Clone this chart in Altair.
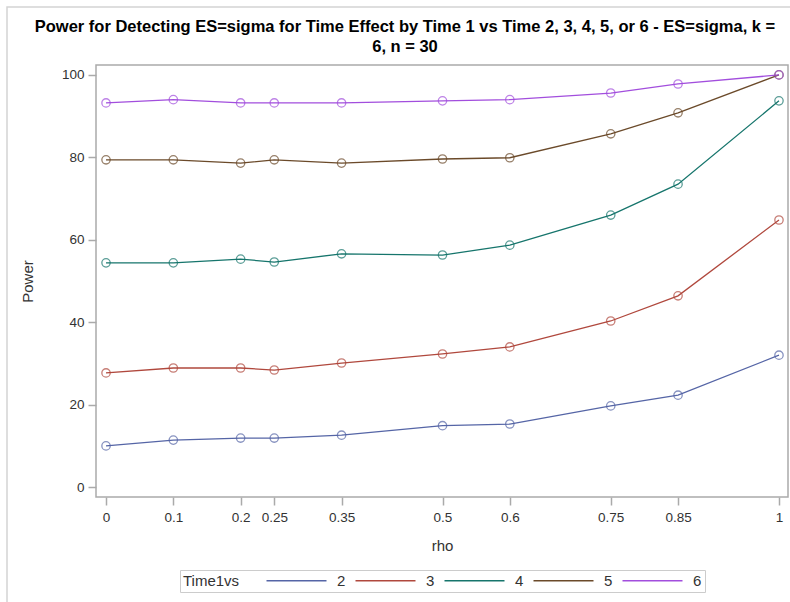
import altair as alt
import pandas as pd

# Correlation values (rho) at which power was computed
rho = [0, 0.1, 0.2, 0.25, 0.35, 0.5, 0.6, 0.75, 0.85, 1]

# Power (%) for Time 1 vs each later time point
power_t2 = [10.0, 11.4, 11.9, 11.9, 12.6, 14.9, 15.3, 19.7, 22.3, 32.0]
power_t3 = [27.7, 28.9, 28.9, 28.4, 30.1, 32.3, 34.0, 40.3, 46.4, 64.8]
power_t4 = [54.4, 54.4, 55.3, 54.6, 56.6, 56.3, 58.7, 66.0, 73.5, 93.7]
power_t5 = [79.4, 79.4, 78.6, 79.4, 78.6, 79.6, 79.9, 85.7, 90.8, 100.0]
power_t6 = [93.2, 94.0, 93.2, 93.2, 93.2, 93.7, 94.0, 95.6, 97.8, 100.0]

groups = ["2", "3", "4", "5", "6"]
colors = ["#5565A6", "#B0483D", "#16756C", "#6B4A2A", "#A24EDD"]

series = [power_t2, power_t3, power_t4, power_t5, power_t6]
rows = []
for g, vals in zip(groups, series):
    for r, p in zip(rho, vals):
        rows.append({"rho": r, "Power": p, "Time1vs": g})
df = pd.DataFrame(rows)

FONT = "Liberation Sans, Arial, sans-serif"

x = alt.X("rho:Q", title="rho",
          scale=alt.Scale(domain=[-0.0149, 1.0134], nice=False, zero=False),
          axis=alt.Axis(values=rho, labelExpr="datum.value", grid=False,
                        domain=False, tickSize=8, labelPadding=5,
                        titlePadding=15))
y = alt.Y("Power:Q", title="Power",
          scale=alt.Scale(domain=[-2.4, 102.4], nice=False, zero=False),
          axis=alt.Axis(values=[0, 20, 40, 60, 80, 100], grid=False,
                        domain=False, tickSize=8, labelPadding=4,
                        titlePadding=26))

# Legend keys are wide horizontal line segments drawn with a custom path
color = alt.Color("Time1vs:N", title="Time1vs",
                  scale=alt.Scale(domain=groups, range=colors),
                  legend=alt.Legend(orient="none", direction="horizontal",
                                    legendX=84, legendY=505,
                                    titleOrient="left", titlePadding=49,
                                    symbolType="M-5,0H5", symbolSize=144,
                                    symbolStrokeWidth=1.5, symbolFillColor="transparent",
                                    labelOffset=33, columnPadding=6,
                                    padding=3, strokeColor="#cccccc"))

lines = alt.Chart(df).mark_line(strokeWidth=1.3).encode(x=x, y=y, color=color)
points = alt.Chart(df).mark_point(shape="circle", filled=False, size=70,
                                  strokeWidth=1.3).encode(
    x=x, y=y, color=alt.Color("Time1vs:N", scale=alt.Scale(domain=groups, range=colors),
                              legend=None))

# Light outer frame around the whole graphic
frame = alt.Chart(pd.DataFrame({"k": [0]})).mark_rect(
    fill="transparent", stroke="#d4d4d4", strokeWidth=1.5, clip=False
).encode(x=alt.value(-89), x2=alt.value(720), y=alt.value(-58), y2=alt.value(560))

chart = (frame + lines + points).properties(
    width=692, height=432,
    title=alt.Title(
        ["Power for Detecting ES=sigma for Time Effect by Time 1 vs Time 2, 3, 4, 5, or 6 - ES=sigma, k =",
         "6, n = 30"],
        anchor="middle", frame="group", dx=-37, dy=57, offset=8,
        fontSize=16.5, fontWeight="bold", font=FONT, color="#000000", lineHeight=20),
    autosize=alt.AutoSizeParams(type="none"),
    padding={"left": 96, "top": 65, "right": 2, "bottom": 105},
).configure_view(
    stroke="#aaaaaa", strokeWidth=1.5
).configure_axis(
    labelFont=FONT, titleFont=FONT, labelFontSize=13.5, titleFontSize=15,
    labelColor="#333333", titleColor="#333333", titleFontWeight="normal",
    tickColor="#aaaaaa", tickWidth=1.5
).configure_legend(
    labelFont=FONT, titleFont=FONT, labelFontSize=15, titleFontSize=15,
    titleFontWeight="normal", labelColor="#333333", titleColor="#333333"
)

chart.save("out.html", embed_options={"renderer": "svg", "actions": False})
